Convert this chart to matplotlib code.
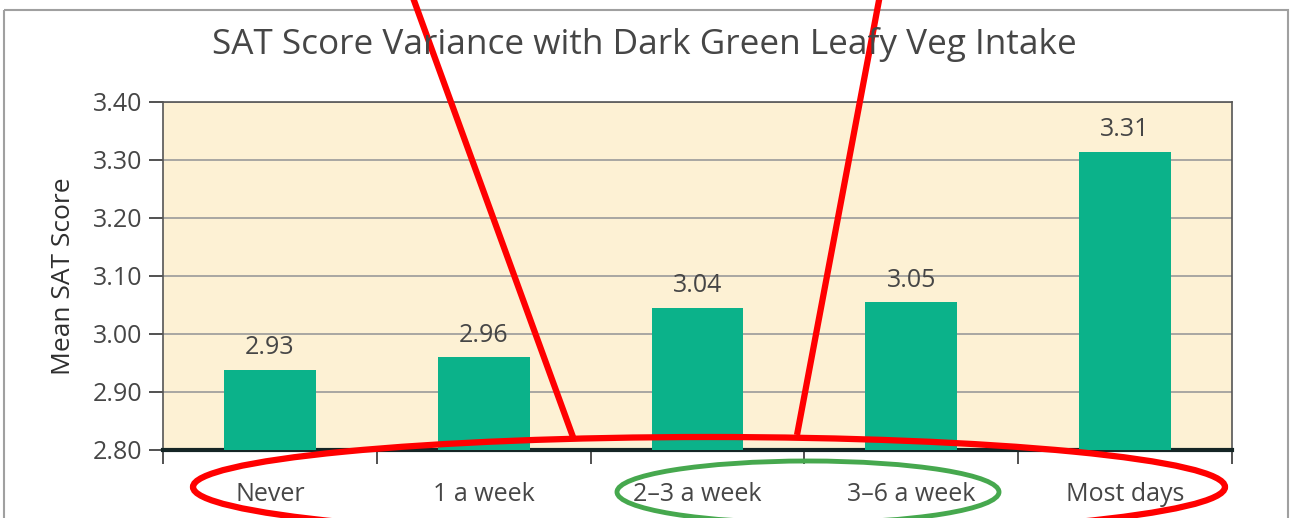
import matplotlib
matplotlib.use("Agg")
import matplotlib.pyplot as plt
from matplotlib.patches import Ellipse, Rectangle

plt.rcParams["font.family"] = ["Open Sans", "DejaVu Sans"]

CATEGORIES = ["Never", "1 a week", "2\u20133 a week", "3\u20136 a week", "Most days"]
MEANS = [2.938, 2.960, 3.045, 3.055, 3.314]
VALUE_LABELS = ["2.93", "2.96", "3.04", "3.05", "3.31"]
Y_TICKS = [2.80, 2.90, 3.00, 3.10, 3.20, 3.30, 3.40]

TEXT = "#464646"
BAR = "#0bb28a"
PANEL = "#fdf1d4"

fig = plt.figure(figsize=(12.91, 5.18), dpi=100)
ax = fig.add_axes([163 / 1291, 1 - 450 / 518, 1069 / 1291, 348 / 518])
ax.set_facecolor(PANEL)

x = list(range(len(CATEGORIES)))
ax.bar(x, [m - 2.80 for m in MEANS], bottom=2.80, width=0.43, color=BAR, zorder=3)
for xi, m, lab in zip(x, MEANS, VALUE_LABELS):
    ax.text(xi, m + 0.038, lab, ha="center", va="center", fontsize=18, color=TEXT)

ax.set_ylim(2.80, 3.40)
ax.set_xlim(-0.5, len(CATEGORIES) - 0.5)
ax.set_yticks(Y_TICKS)
ax.set_yticklabels([f"{t:.2f}" for t in Y_TICKS])
ax.yaxis.grid(True, color="#9a9a9a", linewidth=1.2, zorder=1)
ax.set_axisbelow(True)

ax.set_xticks(x)
ax.set_xticklabels(CATEGORIES)
ax.set_xticks([i - 0.5 for i in range(len(CATEGORIES) + 1)], minor=True)
ax.tick_params(axis="x", which="major", length=0, pad=23, labelsize=18, labelcolor=TEXT)
ax.tick_params(axis="x", which="minor", length=10, width=1.2, color="#333333")
ax.tick_params(axis="y", length=10, width=1.2, color="#333333", labelsize=18,
               labelcolor=TEXT, pad=5)

for side in ["left", "right", "top"]:
    ax.spines[side].set_color("#555555")
    ax.spines[side].set_linewidth(1.2)
ax.spines["bottom"].set_color("#152525")
ax.spines["bottom"].set_linewidth(3)

ax.set_ylabel("Mean SAT Score", fontsize=19, color="#2e2e2e", labelpad=12)
fig.text(644 / 1291, 1 - 45 / 518, "SAT Score Variance with Dark Green Leafy Veg Intake",
         ha="center", va="center", fontsize=25.3, color=TEXT)

# hand-drawn overlay in pixel coordinates
ov = fig.add_axes([0, 0, 1, 1], facecolor="none")
ov.set_xlim(0, 1291)
ov.set_ylim(518, 0)
ov.axis("off")
ov.add_patch(Rectangle((4, 10), 1284, 600, fill=False, edgecolor="#a0a0a0", linewidth=1.5))
ov.plot([412, 573], [-5, 437], color="#ff0000", linewidth=4.5, solid_capstyle="butt")
ov.plot([880, 797], [-5, 435], color="#ff0000", linewidth=4.5, solid_capstyle="butt")
ov.add_patch(Ellipse((709, 487), 1032, 100, fill=False, edgecolor="#ff0000", linewidth=4.5))
ov.add_patch(Ellipse((808, 492), 382, 62, fill=False, edgecolor="#46a84e", linewidth=3.5))

fig.savefig("out.png", dpi=100)
